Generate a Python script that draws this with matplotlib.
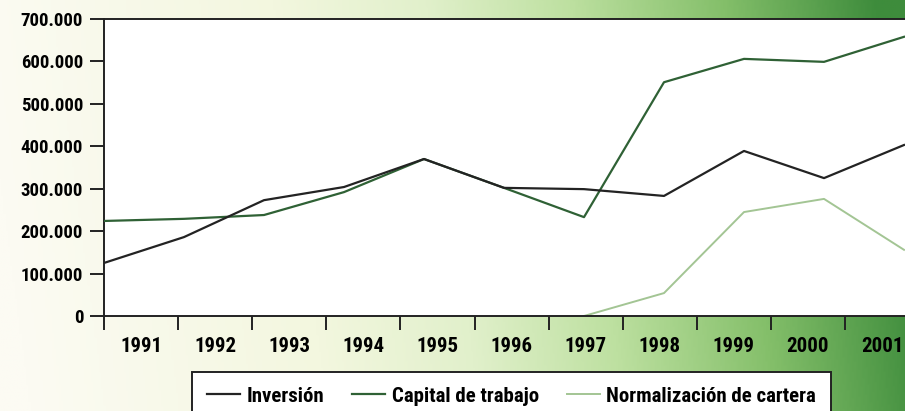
import numpy as np
import matplotlib
matplotlib.use("Agg")
from matplotlib import pyplot as plt
from matplotlib import font_manager
from matplotlib.colors import LinearSegmentedColormap

years = ["1991", "1992", "1993", "1994", "1995", "1996", "1997", "1998", "1999", "2000", "2001"]
inversion = [125000, 186000, 273000, 304000, 370000, 302000, 299000, 283000, 389000, 325000, 403000]
capital = [224000, 229000, 238000, 292000, 370000, 302000, 233000, 551000, 606000, 599000, 658000]
normalizacion = [np.nan] * 6 + [0, 54000, 245000, 276000, 156000]
y_ticks = [0, 100000, 200000, 300000, 400000, 500000, 600000, 700000]

# pick a narrow face if one is around
installed = {f.name for f in font_manager.fontManager.ttflist}
narrow = [n for n in ["Liberation Sans Narrow", "DejaVu Sans Condensed", "Roboto Condensed",
                      "Open Sans Condensed", "Noto Sans Condensed"] if n in installed]
FONT = narrow + ["DejaVu Sans"]
plt.rcParams["font.family"] = FONT
plt.rcParams["font.weight"] = "bold"

fig = plt.figure(figsize=(9.05, 4.11), dpi=100)

# gradient backdrop: pale cream on the left fading into deep green on the right
bg = fig.add_axes([0, 0, 1, 1], zorder=0)
bg.set_axis_off()
cmap = LinearSegmentedColormap.from_list(
    "fondo",
    [(0.0, "#fcfbf3"), (0.33, "#f3f7df"), (0.5, "#e1f0cb"),
     (0.66, "#bde0a0"), (0.83, "#84bf6a"), (1.0, "#3e8c3c")])
gx = np.linspace(0, 1, 400)
gy = np.linspace(0, 1, 200)
GX, GY = np.meshgrid(gx, gy)
grad = np.clip(GX + 0.06 * GY - 0.03, 0, 1)
bg.imshow(grad, cmap=cmap, aspect="auto", extent=[0, 1, 0, 1], origin="lower")
bg.set_xlim(0, 1)
bg.set_ylim(0, 1)

ax = fig.add_axes([104 / 905, 95 / 411, 801 / 905, 297 / 411], zorder=1)
ax.set_facecolor("white")

x = np.arange(len(years))
ax.plot(x, inversion, color="#232323", lw=1.6, zorder=4)
ax.plot(x, capital, color="#2f6135", lw=1.6, zorder=3)
ax.plot(x, normalizacion, color="#a3c594", lw=1.4, zorder=2)

ax.set_xlim(0, 801 / 80)
ax.set_ylim(0, 700000)

step = 74.1 / 80
ax.set_xticks(np.arange(len(years)) * step)
ax.set_xticks((np.arange(len(years)) + 0.5) * step, minor=True)
ax.set_xticklabels([])
ax.set_xticklabels(years, minor=True)
ax.tick_params(axis="x", which="major", direction="out", length=10, width=1.4, color="#222222")
ax.tick_params(axis="x", which="minor", length=0, pad=15, labelsize=15)

ax.set_yticks(y_ticks)
ax.set_yticklabels(["0" if v == 0 else f"{v // 1000}.000" for v in y_ticks])
ax.tick_params(axis="y", direction="out", length=10, width=1.4, color="#222222", pad=5, labelsize=13.5)

for side in ["left", "bottom", "top"]:
    ax.spines[side].set_color("#222222")
    ax.spines[side].set_linewidth(1.4)
ax.spines["right"].set_visible(False)

handles = [
    plt.Line2D([], [], color="#232323", lw=1.6),
    plt.Line2D([], [], color="#2f6135", lw=1.6),
    plt.Line2D([], [], color="#a3c594", lw=1.4),
]
leg = fig.legend(handles, ["Inversión", "Capital de trabajo", "Normalización de cartera"],
                 loc="upper left", bbox_to_anchor=(192 / 905, 39 / 411), ncol=3,
                 frameon=True, fancybox=False, framealpha=1, edgecolor="#222222",
                 fontsize=15, handlelength=1.6, handletextpad=0.3, columnspacing=1.35,
                 borderpad=0.7, borderaxespad=0)
leg.get_frame().set_linewidth(1.4)

fig.savefig("out.png", dpi=100)
